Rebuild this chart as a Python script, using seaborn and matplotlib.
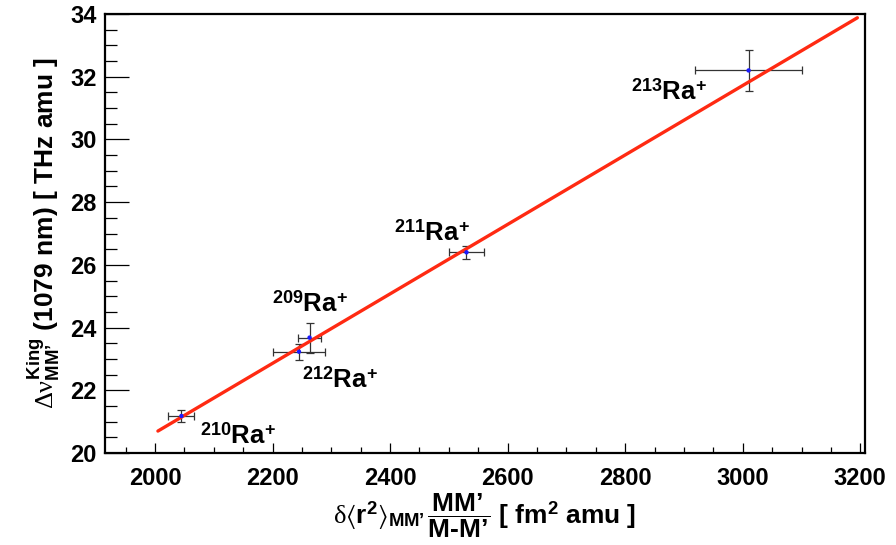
import pandas as pd
import seaborn as sns
from matplotlib import pyplot as plt
from matplotlib.ticker import MultipleLocator

# isotope shift data
isotopes = ["209", "210", "211", "212", "213"]
dr2 = [2263, 2045, 2530, 2245, 3010]          # d<r2> MM'/(M-M') [fm2 amu]
dr2_err = [19, 22, 30, 45, 91]
dnu = [23.68, 21.18, 26.40, 23.23, 32.20]     # King-modified shift [THz amu]
dnu_err = [0.48, 0.18, 0.20, 0.26, 0.64]

# label anchor points (data coords)
label_x = [2199, 2076, 2406, 2250, 2810]
label_y = [24.51, 20.29, 26.76, 22.07, 31.26]

# linear fit end points
fit_x = [2005, 3195]
fit_y = [20.70, 33.88]

df = pd.DataFrame({"iso": isotopes, "x": dr2, "xerr": dr2_err, "y": dnu, "yerr": dnu_err})
fit = pd.DataFrame({"x": fit_x, "y": fit_y})

sns.set_style("ticks")
plt.rcParams["font.family"] = ["Liberation Sans", "DejaVu Sans"]
plt.rcParams["text.color"] = "black"
plt.rcParams["axes.labelcolor"] = "black"
plt.rcParams["mathtext.fontset"] = "custom"
plt.rcParams["mathtext.rm"] = "Liberation Serif"
plt.rcParams["mathtext.it"] = "Liberation Serif"
plt.rcParams["mathtext.bf"] = "Liberation Sans:bold"
plt.rcParams["mathtext.fallback"] = "stix"

fig = plt.figure(figsize=(8.96, 5.45), dpi=100)
ax = fig.add_axes([0.1172, 0.1688, 0.8482, 0.8055])

sns.lineplot(data=fit, x="x", y="y", color="#ff2a12", linewidth=2.4, ax=ax, zorder=3)
ax.errorbar(df["x"], df["y"], xerr=df["xerr"], yerr=df["yerr"], fmt="none",
            ecolor="#333333", elinewidth=0.9, capsize=3, capthick=0.9, zorder=2)
sns.scatterplot(data=df, x="x", y="y", color="#1a1aff", s=10, edgecolor="none",
                ax=ax, zorder=4)

for iso, lx, ly in zip(isotopes, label_x, label_y):
    ax.text(lx, ly, r"$^{\mathbf{%s}}$Ra$^{\mathbf{+}}$" % iso, fontsize=18.5,
            fontweight="bold", ha="left", va="baseline")

ax.set_xlim(1915, 3208)
ax.set_ylim(20, 34)
ax.xaxis.set_major_locator(MultipleLocator(200))
ax.xaxis.set_minor_locator(MultipleLocator(50))
ax.yaxis.set_major_locator(MultipleLocator(2))
ax.yaxis.set_minor_locator(MultipleLocator(0.5))
ax.tick_params(axis="both", which="both", direction="in", width=0.9, colors="black",
               labelsize=17)
ax.tick_params(axis="y", which="major", length=17, pad=6)
ax.tick_params(axis="y", which="minor", length=8.5)
ax.tick_params(axis="x", which="major", length=7.5, pad=10)
ax.tick_params(axis="x", which="minor", length=4.5)
for lab in ax.get_xticklabels() + ax.get_yticklabels():
    lab.set_fontweight("bold")
for sp in ax.spines.values():
    sp.set_linewidth(1.6)
    sp.set_color("black")

ax.set_xlabel(r"$\delta⟨\mathbf{r}^{\mathbf{2}}⟩_{\mathbf{MM’}}\,"
              r"\dfrac{\mathbf{MM’}}{\mathbf{M‐M’}}$ [ fm$^{\mathbf{2}}$ amu ]",
              fontsize=19, fontweight="bold", labelpad=1)
ax.set_ylabel(r"$\Delta\nu^{\mathbf{King}}_{\mathbf{MM’}}$ (1079 nm) [ THz amu ]",
              fontsize=19, fontweight="bold", labelpad=6)

fig.savefig("out.png", dpi=100)
